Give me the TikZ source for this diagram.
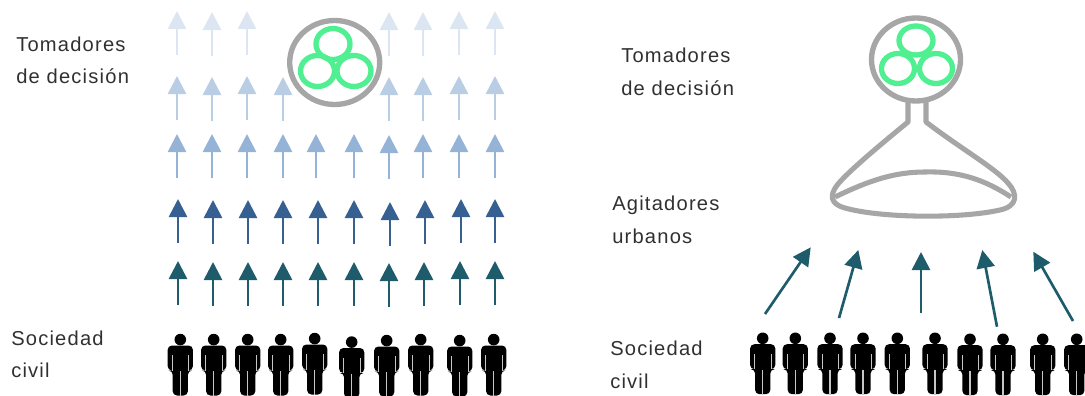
\documentclass[tikz,border=0pt]{standalone}
\usepackage{xcolor}
\usepackage{fontspec}
\setmainfont[LetterSpace=6]{Liberation Sans}
\usetikzlibrary{arrows.meta}

\definecolor{ringgray}{HTML}{A6A6A6}
\definecolor{ringgreen}{HTML}{50F092}
\definecolor{arrowteal}{HTML}{1F5C6B}
\definecolor{blueA}{HTML}{DCE6F2}
\definecolor{blueB}{HTML}{B9CDE5}
\definecolor{blueC}{HTML}{95B3D7}
\definecolor{blueD}{HTML}{376092}
\definecolor{inktext}{HTML}{303030}

\tikzset{
    sidelabel/.style={anchor=base west,inner sep=0pt,text=inktext,font=\fontsize{15.1}{15.1}\selectfont},
    uparrow/.style={line width=2pt,-{Triangle[length=13.5pt,width=13.5pt]}},
    ring/.style={draw=ringgray,line width=4pt},
    greenring/.style={draw=ringgreen,line width=4pt},
    flask/.style={draw=ringgray,line width=3.8pt,line join=round},
    person/.pic={
        \fill[black] (0,5.6) circle [x radius=5.8,y radius=5.8];
        \fill[black,rounded corners=3.2pt] (-12.6,11.5) -- (12.6,11.5) -- (12.6,36.5) -- (7.6,36.5) -- (7.6,61.5) -- (-7.6,61.5) -- (-7.6,36.5) -- (-12.6,36.5) -- cycle;
        \draw[white!55!gray,line width=0.8pt] (0,37) -- (0,62);
        \draw[white!55!gray,line width=0.35pt] (-8.1,21) -- (-8.1,36.5);
        \draw[white!55!gray,line width=0.35pt] (8.1,21) -- (8.1,36.5);
    }
}

% one row of straight arrows: top y, length, colour, list of x/offset
\newcommand{\arrowrow}[4]{
    \foreach \px/\dy in {#4} {
        \coordinate (tip) at (\px,#1+\dy);
        \coordinate (tail) at (\px,#1+\dy+#2);
        \draw[uparrow,draw=#3,fill=#3] (tail) -- (tip);
    }
}

\begin{document}
\begin{tikzpicture}[x=0.75pt,y=-0.75pt]
    \clip (0,0) rectangle (1085,396);
    %
    % left panel
    \node[sidelabel] (tomleft) at (16,51) {Tomadores};
    \node[sidelabel] (decleft) at (16,83) {de decisión};
    \node[sidelabel] (socleft) at (11,345) {Sociedad};
    \node[sidelabel] (civleft) at (11,377) {civil};
    %
    \arrowrow{11}{44}{blueA}{177/0,212/1,247/0,389/1,423/1,459/0,495/0}
    \arrowrow{76}{44}{blueB}{177/0,212/1,247/0,283/1,389/1,423/1,459/0,495/0}
    \arrowrow{134}{44}{blueC}{177/0,212/0,247/0,283/0,316/0,354/0,389/1,423/0,459/0,495/0}
    \arrowrow{199}{44}{blueD}{178/0,213/1,248/1,283/1,318/1,354/1,390/3,425/1,461/0,495/0}
    \arrowrow{261}{44}{arrowteal}{178/0,213/1,248/1,283/1,318/1,354/1,389/2,424/1,460/0,495/0}
    %
    \draw[ring] (334.7,62.5) ellipse [x radius=45,y radius=42];
    \draw[greenring] (333,44) ellipse [x radius=17,y radius=15.5];
    \draw[greenring] (317.5,71) ellipse [x radius=17,y radius=15.5];
    \draw[greenring] (354,71) ellipse [x radius=17,y radius=15.5];
    %
    \foreach \px/\py in {180.3/334,213.7/334,247.7/334,280.7/334,314.7/333,351.7/336.5,386.7/335,420.7/334,459.7/335,493.7/334}
        \pic at (\px,\py) {person};
    %
    % right panel
    \node[sidelabel] (tomright) at (621,62) {Tomadores};
    \node[sidelabel] (decright) at (621,95) {de decisión};
    \node[sidelabel] (agiright) at (612,210) {Agitadores};
    \node[sidelabel] (urbright) at (612,243) {urbanos};
    \node[sidelabel] (socright) at (610,355) {Sociedad};
    \node[sidelabel] (civright) at (610,388) {civil};
    %
    \draw[ring] (916,59.5) ellipse [x radius=44.5,y radius=41.5];
    \draw[greenring] (916,40.5) ellipse [x radius=17,y radius=14.5];
    \draw[greenring] (898,68.5) ellipse [x radius=16.5,y radius=15];
    \draw[greenring] (936,68.5) ellipse [x radius=16.5,y radius=15];
    %
    \draw[flask] (908,101) -- (908,122) .. controls (880,145) and (850,170) .. (838,184)
        .. controls (829,195) and (830,204) .. (845,208)
        .. controls (880,218) and (960,219) .. (1000,210)
        .. controls (1018,206) and (1018,194) .. (1008,183)
        .. controls (995,168) and (960,148) .. (926,122) -- (926,101);
    \draw[flask] (835,197) .. controls (870,180) and (895,172) .. (925,172)
        .. controls (960,171) and (985,180) .. (1011,197);
    %
    \coordinate (tailA) at (765,314);
    \coordinate (tipA) at (810.7,247.3);
    \coordinate (tailB) at (839,318);
    \coordinate (tipB) at (858.3,250);
    \coordinate (tailC) at (921,313.3);
    \coordinate (tipC) at (921,252);
    \coordinate (tailD) at (997,326.7);
    \coordinate (tipD) at (982.3,250);
    \coordinate (tailE) at (1073,321);
    \coordinate (tipE) at (1033.3,251.7);
    %
    \draw[uparrow,draw=arrowteal,fill=arrowteal] (tailA) -- (tipA);
    \draw[uparrow,draw=arrowteal,fill=arrowteal] (tailB) -- (tipB);
    \draw[uparrow,draw=arrowteal,fill=arrowteal] (tailC) -- (tipC);
    \draw[uparrow,draw=arrowteal,fill=arrowteal] (tailD) -- (tipD);
    \draw[uparrow,draw=arrowteal,fill=arrowteal] (tailE) -- (tipE);
    %
    \foreach \px/\py in {762.7/332.7,795.3/332.7,830/332.7,863/332.7,897.3/332.7,935/332.7,970/333.7,1003/333.7,1042.7/333.7,1076.7/333.7}
        \pic at (\px,\py) {person};
    %
\end{tikzpicture}
\end{document}
